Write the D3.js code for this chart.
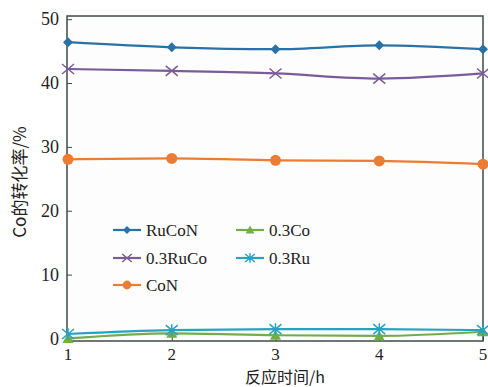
<!DOCTYPE html>
<html lang="zh">
<head>
<meta charset="utf-8">
<title>Co conversion</title>
<script src="https://cdn.jsdelivr.net/npm/d3@7"></script>
<style>
  body { margin: 0; background: #fff; }
  text { font-family: "Liberation Serif", "DejaVu Serif", serif; fill: #222; }
  .cjk { font-family: "Noto Sans CJK SC", sans-serif; }
</style>
</head>
<body>
<div id="chart"></div>
<script>
// hours on the x axis
var hours = [1, 2, 3, 4, 5]
var xTicks = [1, 2, 3, 4, 5]
var yTicks = [0, 10, 20, 30, 40, 50]

// conversion of Co (%)
var seriesNames = ["RuCoN", "0.3RuCo", "CoN", "0.3Co", "0.3Ru"]
var rucon   = [46.4, 45.6, 45.3, 45.9, 45.3]
var ruco03  = [42.2, 41.9, 41.5, 40.7, 41.5]
var con     = [28.05, 28.2, 27.9, 27.8, 27.3]
var co03    = [0.0, 0.8, 0.5, 0.4, 1.05]
var ru03    = [0.7, 1.3, 1.45, 1.45, 1.3]

var colors = ["#2a72a6", "#7a5c99", "#ec7c34", "#72ad4a", "#26a3c2"]
var symbols = ["diamond", "cross", "circle", "triangle", "asterisk"]
var values = [rucon, ruco03, con, co03, ru03]

var W = 488, H = 387
var pLeft = 67, pRight = 483, pTop = 16, pBottom = 341

var svg = d3.select("#chart").append("svg")
    .attr("width", W).attr("height", H)

var x = d3.scaleLinear().domain([1, 5]).range([pLeft + 1, pRight])
var y = d3.scaleLinear().domain([-0.4, 50.5]).range([pBottom, pTop])

// frame
svg.append("rect")
    .attr("x", pLeft).attr("y", pTop)
    .attr("width", pRight - pLeft).attr("height", pBottom - pTop)
    .attr("fill", "#fdfdfd")
    .attr("stroke", "#3e4b49").attr("stroke-width", 1.5)

// inward ticks
var yAxis = svg.append("g").attr("transform", "translate(" + pLeft + ",0)")
    .call(d3.axisRight(y).tickValues(yTicks).tickSize(5).tickFormat(""))
yAxis.select(".domain").remove()
yAxis.selectAll("line").attr("stroke", "#3e4b49")
yTicks.forEach(function(t){
    svg.append("text")
        .attr("x", pLeft - 8).attr("y", y(t))
        .attr("dy", "0.35em")
        .attr("text-anchor", "end")
        .style("font-size", "18px")
        .text(t)
})

var xAxis = svg.append("g").attr("transform", "translate(0," + pBottom + ")")
    .call(d3.axisTop(x).tickValues(xTicks).tickSize(5).tickFormat(""))
xAxis.select(".domain").remove()
xAxis.selectAll("line").attr("stroke", "#3e4b49")
xTicks.forEach(function(t){
    svg.append("text")
        .attr("x", x(t)).attr("y", 354)
        .attr("dy", "0.35em")
        .attr("text-anchor", "middle")
        .style("font-size", "17px")
        .text(t)
})

// axis titles
svg.append("text").attr("class", "cjk")
    .attr("x", 285).attr("y", 377).attr("dy", "0.35em")
    .attr("text-anchor", "middle")
    .style("font-size", "16px")
    .text("反应时间/h")

svg.append("text").attr("class", "cjk")
    .attr("transform", "translate(20,182) rotate(-90)")
    .attr("dy", "0.35em")
    .attr("text-anchor", "middle")
    .style("font-size", "17px")
    .text("Co的转化率/%")

function marker(g, type, cx, cy, color, k) {
    k = k || 1
    var a = 5 * k, b = 6 * k
    if (type == "diamond") {
        g.append("path").attr("d", "M" + cx + "," + (cy - a) + "L" + (cx + a) + "," + cy + "L" + cx + "," + (cy + a) + "L" + (cx - a) + "," + cy + "Z")
            .attr("fill", color)
    } else if (type == "circle") {
        g.append("circle").attr("cx", cx).attr("cy", cy).attr("r", 5.5 * k).attr("fill", color)
    } else if (type == "triangle") {
        g.append("path").attr("d", "M" + cx + "," + (cy - 5.5 * k) + "L" + (cx + 5.5 * k) + "," + (cy + 4.5 * k) + "L" + (cx - 5.5 * k) + "," + (cy + 4.5 * k) + "Z")
            .attr("fill", color)
    } else if (type == "cross") {
        g.append("path").attr("d", "M" + (cx - b) + "," + (cy - a) + "L" + (cx + b) + "," + (cy + a) + "M" + (cx - b) + "," + (cy + a) + "L" + (cx + b) + "," + (cy - a))
            .attr("stroke", color).attr("stroke-width", 1.5).attr("fill", "none")
    } else {
        g.append("path").attr("d", "M" + (cx - b) + "," + (cy - a) + "L" + (cx + b) + "," + (cy + a) + "M" + (cx - b) + "," + (cy + a) + "L" + (cx + b) + "," + (cy - a) + "M" + cx + "," + (cy - b) + "L" + cx + "," + (cy + b))
            .attr("stroke", color).attr("stroke-width", 1.5).attr("fill", "none")
    }
}

var line = d3.line()
    .x(function(d, i){ return x(hours[i]) })
    .y(function(d){ return y(d) })
    .curve(d3.curveMonotoneX)

values.forEach(function(vals, s){
    var g = svg.append("g")
    g.append("path").datum(vals)
        .attr("d", line)
        .attr("fill", "none")
        .attr("stroke", colors[s])
        .attr("stroke-width", 2.2)
    vals.forEach(function(v, i){
        marker(g, symbols[s], x(hours[i]), y(v), colors[s])
    })
})

// legend
var legendPos = [[113, 230], [113, 258], [113, 285], [236, 230], [236, 258]]
seriesNames.forEach(function(name, s){
    var p = legendPos[s]
    var g = svg.append("g")
    g.append("line")
        .attr("x1", p[0]).attr("x2", p[0] + 28)
        .attr("y1", p[1]).attr("y2", p[1])
        .attr("stroke", colors[s]).attr("stroke-width", 2.2)
    marker(g, symbols[s], p[0] + 14, p[1], colors[s], 0.8)
    g.append("text")
        .attr("x", p[0] + 33).attr("y", p[1])
        .attr("dy", "0.35em")
        .style("font-size", "17px")
        .text(name)
})
</script>
</body>
</html>
